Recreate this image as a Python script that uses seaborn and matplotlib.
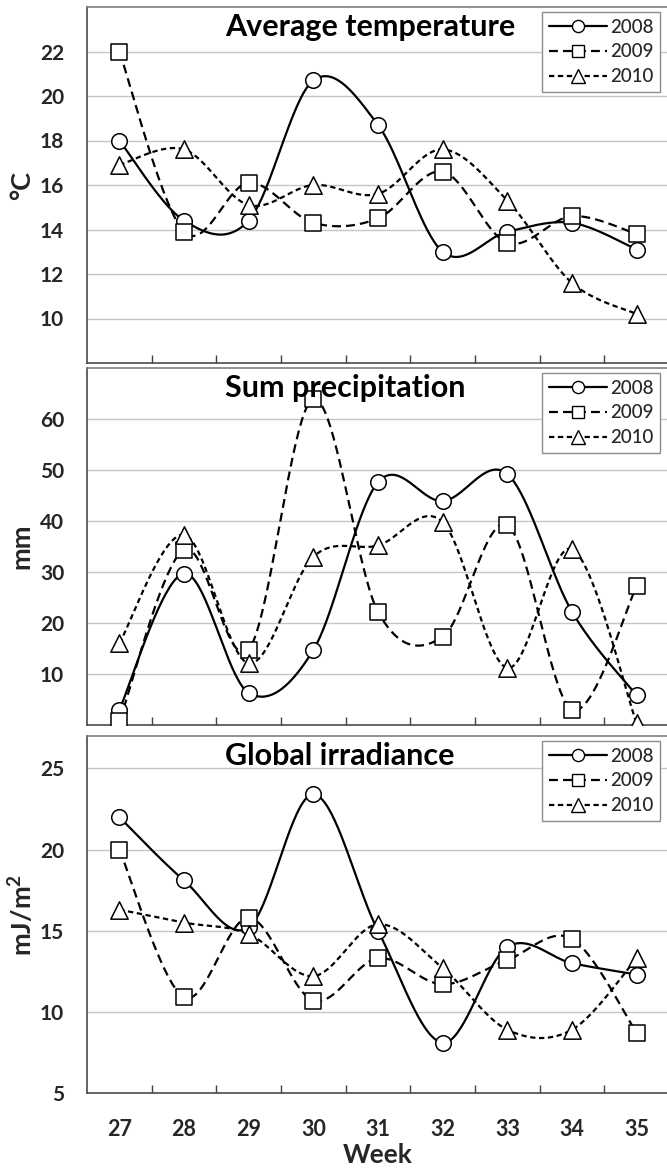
import numpy as np
import pandas as pd
import matplotlib
matplotlib.use("Agg")
import matplotlib.pyplot as plt
import seaborn as sns
from matplotlib.lines import Line2D
from matplotlib.ticker import FixedLocator

# ---------------- data ----------------
weeks = [27, 28, 29, 30, 31, 32, 33, 34, 35]
years = ["2008", "2009", "2010"]

temp_2008 = [18.0, 14.4, 14.4, 20.7, 18.7, 13.0, 13.9, 14.3, 13.1]
temp_2009 = [22.0, 13.9, 16.1, 14.3, 14.5, 16.6, 13.4, 14.6, 13.8]
temp_2010 = [16.9, 17.6, 15.1, 16.0, 15.6, 17.6, 15.3, 11.6, 10.2]

prec_2008 = [3.0, 29.7, 6.3, 14.7, 47.6, 43.9, 49.2, 22.2, 5.8]
prec_2009 = [0.7, 34.4, 14.8, 63.9, 22.2, 17.3, 39.2, 3.0, 27.2]
prec_2010 = [16.0, 37.3, 12.1, 33.0, 35.2, 39.8, 11.2, 34.5, 0.3]

irr_2008 = [22.0, 18.1, 15.2, 23.4, 15.0, 8.1, 14.0, 13.0, 12.3]
irr_2009 = [20.0, 10.9, 15.8, 10.7, 13.3, 11.7, 13.2, 14.5, 8.7]
irr_2010 = [16.3, 15.5, 14.8, 12.2, 15.4, 12.7, 8.9, 8.9, 13.3]

titles = ["Average temperature", "Sum precipitation", "Global irradiance"]
ylabels = ["°C", "mm", "mJ/m$^2$"]
yticks_list = [[10, 12, 14, 16, 18, 20, 22], [10, 20, 30, 40, 50, 60], [5, 10, 15, 20, 25]]
ylims = [(8, 24), (0, 70), (5, 27)]
xlabel = "Week"

panels = [
    [temp_2008, temp_2009, temp_2010],
    [prec_2008, prec_2009, prec_2010],
    [irr_2008, irr_2009, irr_2010],
]

# ---------------- styling ----------------
sns.set_theme(style="white")
plt.rcParams["font.family"] = ["Lato", "DejaVu Sans"]
plt.rcParams["mathtext.fontset"] = "custom"
plt.rcParams["mathtext.rm"] = "Lato:bold"
plt.rcParams["mathtext.it"] = "Lato:bold"
plt.rcParams["mathtext.bf"] = "Lato:bold"

LW = 1.6
styles = [
    dict(ls="-", marker="o", ms=11.2),
    dict(ls=(0, (4.0, 2.3)), marker="s", ms=11.0),
    dict(ls=(0, (2.4, 1.6)), marker="^", ms=12.5),
]


def smooth(x, y, n=40):
    """Excel-like smoothed line: cubic Bezier segments (Catmull-Rom tangents)."""
    P = np.column_stack([np.asarray(x, float), np.asarray(y, float)])
    Pe = np.vstack([P[0], P, P[-1]])
    t = np.linspace(0, 1, n)[:, None]
    out = []
    for i in range(len(P) - 1):
        p0, p1, p2, p3 = Pe[i], Pe[i + 1], Pe[i + 2], Pe[i + 3]
        b1 = p1 + (p2 - p0) / 6.0
        b2 = p2 - (p3 - p1) / 6.0
        seg = (1 - t) ** 3 * p1 + 3 * (1 - t) ** 2 * t * b1 + 3 * (1 - t) * t ** 2 * b2 + t ** 3 * p2
        out.append(seg if i == 0 else seg[1:])
    arr = np.vstack(out)
    return arr[:, 0], arr[:, 1]


W, H = 667, 1174
fig = plt.figure(figsize=(W / 100, H / 100), dpi=100)

# panel pixel boxes (top, bottom)
boxes = [(7, 363), (368, 725), (736, 1093)]
left_px = 87
width_px = 582

for k, (top, bot) in enumerate(boxes):
    ax = fig.add_axes([left_px / W, (H - bot) / H, width_px / W, (bot - top) / H])
    for j, yr in enumerate(years):
        vals = panels[k][j]
        st = styles[j]
        sx, sy = smooth(weeks, vals)
        df_s = pd.DataFrame({"x": sx, "y": sy})
        sns.lineplot(data=df_s, x="x", y="y", ax=ax, color="black", lw=LW,
                     linestyle=st["ls"], sort=False, estimator=None, zorder=2)
        df_p = pd.DataFrame({"x": weeks, "y": vals})
        sns.scatterplot(data=df_p, x="x", y="y", ax=ax, marker=st["marker"],
                        s=st["ms"] ** 2, facecolor="white", edgecolor="black",
                        linewidth=1.1, zorder=3)

    ax.set_xlim(26.5, 35.5)
    ax.set_ylim(*ylims[k])
    ax.yaxis.set_major_locator(FixedLocator(yticks_list[k]))
    ax.set_yticklabels([str(v) for v in yticks_list[k]], fontsize=15, fontweight="bold")
    ax.grid(axis="y", color="#c6c6c6", lw=1.0)
    ax.set_axisbelow(True)
    ax.tick_params(axis="y", length=0, pad=16.5)

    ax.xaxis.set_major_locator(FixedLocator(weeks))
    ax.xaxis.set_minor_locator(FixedLocator([w + 0.5 for w in weeks[:-1]]))
    ax.tick_params(axis="x", which="major", length=0, pad=19)
    ax.tick_params(axis="x", which="minor", length=6, direction="in", color="#404040", width=1, bottom=True)
    if k == 2:
        ax.set_xticklabels([str(w) for w in weeks], fontsize=15.5, fontweight="bold")
        ax.set_xlabel(xlabel, fontsize=19, fontweight="bold", labelpad=2)
    else:
        ax.set_xticklabels([])
        ax.set_xlabel("")

    ax.set_ylabel(ylabels[k], fontsize=19.5, fontweight="bold")
    ax.yaxis.label.set_va("center")
    ax.yaxis.set_label_coords(-0.112, 0.5)

    for side in ["left", "bottom"]:
        ax.spines[side].set_color("#4a4a4a")
        ax.spines[side].set_linewidth(1.2)
    ax.spines["top"].set_color("#7f7f7f")
    ax.spines["top"].set_linewidth(1.2)
    ax.spines["right"].set_visible(False)

    ax.text(0.237, 0.919, titles[k], transform=ax.transAxes, ha="left", va="baseline",
            fontsize=22, fontweight="bold", color="black")

    handles = [Line2D([], [], color="black", lw=LW, linestyle=s["ls"], marker=s["marker"],
                      markersize=s["ms"] * 0.78, mfc="white", mec="black", mew=1.0)
               for s in styles]
    leg = ax.legend(handles, years, loc="upper right", bbox_to_anchor=(0.9845, 0.986),
                    borderaxespad=0, frameon=True, fancybox=False, framealpha=1,
                    edgecolor="#8c8c8c", fontsize=13.5, handlelength=3.1,
                    handletextpad=0.15, labelspacing=0.42, borderpad=0.35,
                    prop={"size": 13.5, "weight": "medium"})
    leg.get_frame().set_linewidth(1.0)

fig.savefig("out.png", dpi=100)
